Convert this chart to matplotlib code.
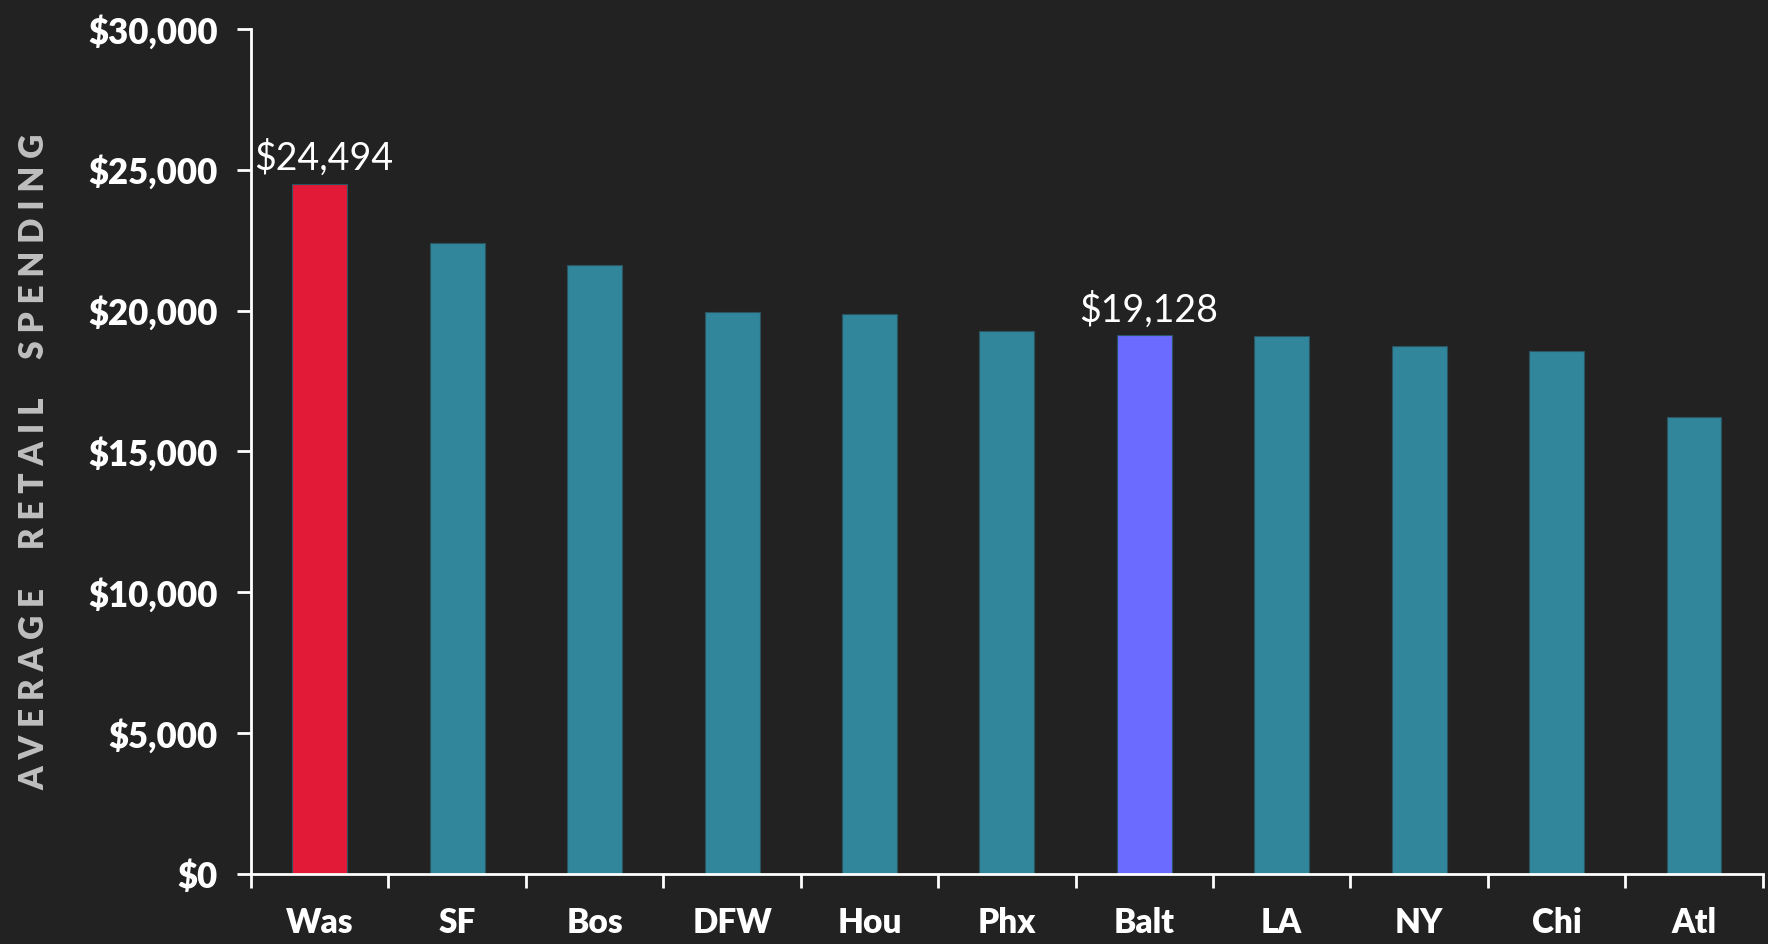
import matplotlib.pyplot as plt
import numpy as np

# data
cities = ['Was', 'SF', 'Bos', 'DFW', 'Hou', 'Phx', 'Balt', 'LA', 'NY', 'Chi', 'Atl']
spending = [24494, 22390, 21620, 19960, 19890, 19260, 19128, 19100, 18750, 18560, 16210]
labelled = ['Was', 'Balt']   # bars that get a value label

bg = '#222222'
teal = '#31869B'
colours = [teal] * len(cities)
colours[cities.index('Was')] = '#E31A37'
colours[cities.index('Balt')] = '#6B6BFF'

plt.rcParams['font.family'] = ['Lato', 'DejaVu Sans']

fig = plt.figure(figsize=(17.68, 9.44), dpi=100, facecolor=bg)
ax = fig.add_axes([0.142, 0.0742, 0.855, 0.8951], facecolor=bg)

x = np.arange(len(cities))
ax.bar(x, spending, width=0.4, color=colours, edgecolor='#2a5560', linewidth=0.8)

# value labels on highlighted bars
for name in labelled:
    i = cities.index(name)
    ax.annotate('${:,}'.format(spending[i]), (x[i], spending[i]), xytext=(3, 5),
                textcoords='offset points', ha='center', va='bottom',
                color='white', fontsize=27)

ax.set_xlim(-0.5, len(cities) - 0.5)
ax.set_ylim(0, 30000)
ax.set_yticks(range(0, 30001, 5000))
ax.set_yticklabels(['${:,}'.format(v) for v in range(0, 30001, 5000)])
ax.set_xticks(x)
ax.set_xticklabels(cities)
ax.set_xticks(np.arange(-0.5, len(cities), 1), minor=True)

for s in ['top', 'right']:
    ax.spines[s].set_visible(False)
for s in ['left', 'bottom']:
    ax.spines[s].set_color('white')
    ax.spines[s].set_linewidth(2)

ax.tick_params(axis='y', colors='white', labelsize=25, length=10, width=2, pad=14)
ax.tick_params(axis='x', which='major', length=0, colors='white', labelsize=24, pad=24)
ax.tick_params(axis='x', which='minor', length=10, width=2, color='white')
for lbl in ax.get_yticklabels() + ax.get_xticklabels():
    lbl.set_fontweight('heavy')

fig.text(34 / 1768, 1 - 462 / 944, ' '.join('AVERAGE RETAIL SPENDING').replace('   ', '     '),
         rotation=90, ha='center', va='center', color='#BFBFBF',
         fontsize=24, fontweight='heavy')

fig.savefig('out.png', dpi=100, facecolor=bg)
